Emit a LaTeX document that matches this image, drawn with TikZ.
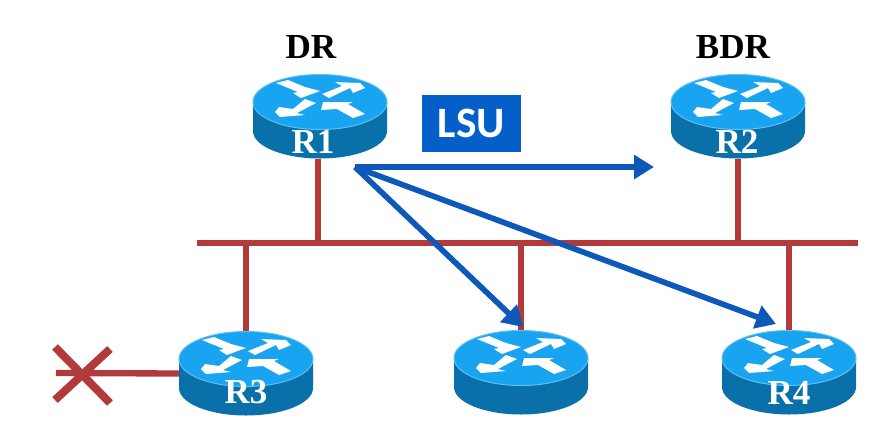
\documentclass[tikz,border=0pt]{standalone}
\usepackage{fontspec}
\setmainfont{Liberation Serif}
\newfontfamily\lsufont{Carlito}
\usetikzlibrary{arrows.meta}
\definecolor{linkred}{RGB}{178,58,58}
\definecolor{floodblue}{RGB}{14,88,186}
\definecolor{boxblue}{RGB}{4,96,200}
\definecolor{routertop}{RGB}{24,164,240}
\definecolor{routerside}{RGB}{10,112,170}
\tikzset{
LINK/.style ={draw=linkred,line join=miter,line cap=butt,line width=0.19 cm},
XARM/.style ={draw=linkred,line join=miter,line cap=butt,line width=0.24 cm},
FLOOD/.style ={draw=floodblue,line join=miter,line cap=butt,line width=0.17 cm,-{Triangle[length=0.6cm,width=0.7cm]}},
ROUTERBOX/.style={draw=none,inner sep=0pt,minimum width=4.02cm,minimum height=2.52cm},
ROUTERTEXT/.style={text=white,inner sep=0pt,font=\fontsize{30}{30}\selectfont\bfseries},
ROLETEXT/.style={text=black,inner sep=0pt,font=\fontsize{30}{30}\selectfont\bfseries},
LSUBOX/.style={fill=boxblue,text=white,inner sep=0pt,minimum width=2.97cm,minimum height=1.71cm,font=\fontsize{37}{37}\selectfont\lsufont\bfseries},
}
\newcommand{\ROUTER}[2]{
	\begin{scope}[shift={(#2)}]
		\path[fill=routerside] (-67,0) -- (-67,29) .. controls (-67,44.2) and (-37,56.5) .. (0,56.5) .. controls (37,56.5) and (67,44.2) .. (67,29) -- (67,0) -- cycle;
		\path[fill=routertop,draw=routertop!70!white,line width=0.3mm] (-67,0) .. controls (-67,-15.2) and (-37,-27.5) .. (0,-27.5) .. controls (37,-27.5) and (67,-15.2) .. (67,0) .. controls (67,15.2) and (37,27.5) .. (0,27.5) .. controls (-37,27.5) and (-67,15.2) .. (-67,0) -- cycle;
		\begin{scope}[shift={(0,-3)}]
			\path[fill=white] (-44,-16) -- (-32,-19) -- (-15,-12) -- (0,-8) -- (-19,-1) -- (-27,-6) -- (-22,-7) -- cycle;
			\path[fill=white] (2,-5) -- (22,-13) -- (15,-17) -- (40,-16) -- (45,-11) -- (33,-6) -- (30,-11) -- (9,-1) -- cycle;
			\path[fill=white] (-45,13) -- (-41,8) -- (-27,10) -- (-15,0) -- (-4,4) -- (-23,14) -- (-15,16) -- (-40,18) -- cycle;
			\path[fill=white] (3,3) -- (33,3) -- (28,5) -- (45,15) -- (33,19) -- (17,10) -- (1,11) -- cycle;
		\end{scope}
		\node[ROUTERBOX] (#1) at (0,14.5) {};
	\end{scope}
}
\begin{document}
\begin{tikzpicture}[x=0.03cm,y=-0.03cm] %LSU flooded by the DR
	\useasboundingbox[fill=white] (0,0) rectangle (892,441);
	\coordinate (BUSW) at (197,243);
	\coordinate (BUSE) at (858,243);
	\coordinate (XC) at (56,373);
	\coordinate (XA) at (55,347);
	\coordinate (XB) at (110,403);
	\coordinate (XD) at (110,349);
	\coordinate (XE) at (55,400);
	\coordinate (FROM) at (355,167);
	\coordinate (TOR2) at (654,167);
	\coordinate (TOMID) at (523,327);
	\coordinate (TOR4) at (776,324);
	\ROUTER{R1}{320,102}
	\ROUTER{R2}{738,102}
	\ROUTER{R3}{246,359}
	\ROUTER{RMID}{521,358}
	\ROUTER{R4}{789,358}
	\path[LINK] (BUSW) -- (BUSE);
	\path[LINK] (R1.south) ++(-2,0) -- +(0,85);
	\path[LINK] (R2.south) -- (R2.south |- BUSW);
	\path[LINK] (R3.north) -- (R3.north |- BUSW);
	\path[LINK] (RMID.north) -- (RMID.north |- BUSW);
	\path[LINK] (R4.north) -- (R4.north |- BUSW);
	\path[LINK] (XC) -- (R3.west);
	\path[XARM] (XA) -- (XB);
	\path[XARM] (XD) -- (XE);
	\path[FLOOD] (FROM) -- (TOR2);
	\path[FLOOD] (FROM) -- (TOMID);
	\path[FLOOD] (FROM) -- (TOR4);
	\node[ROLETEXT,anchor=base] (DR) at (311,58) {DR};
	\node[ROLETEXT,anchor=base] (BDR) at (733,58) {BDR};
	\node[LSUBOX] (LSU) at (471.5,123.5) {LSU};
	\node[ROUTERTEXT,anchor=base] (R1TEXT) at (313,153) {R1};
	\node[ROUTERTEXT,anchor=base] (R2TEXT) at (737,153) {R2};
	\node[ROUTERTEXT,anchor=base] (R3TEXT) at (246,403) {R3};
	\node[ROUTERTEXT,anchor=base] (R4TEXT) at (789,404) {R4};
\end{tikzpicture}
\end{document}
